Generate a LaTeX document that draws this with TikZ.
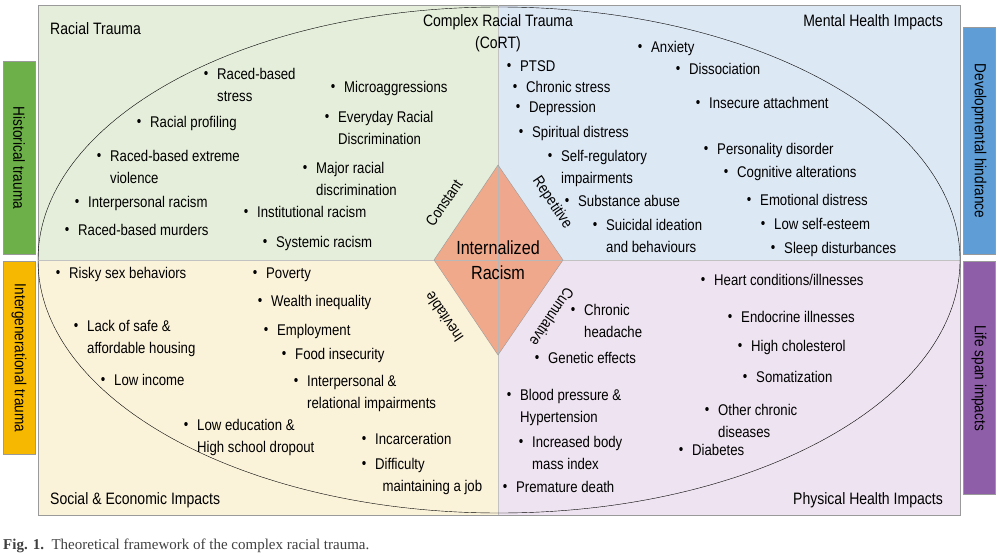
\documentclass[tikz,border=0pt]{standalone}
\usepackage{fontspec}
\setmainfont[FakeStretch=0.85]{Liberation Sans}
\newfontfamily\capfont{Liberation Serif}
\usetikzlibrary{positioning}
\definecolor{qgreen}{HTML}{E4EEDA}
\definecolor{qblue}{HTML}{DDE8F5}
\definecolor{qyellow}{HTML}{FBF2DA}
\definecolor{qpurple}{HTML}{EEE3F0}
\definecolor{bgreen}{HTML}{6DAF48}
\definecolor{byellow}{HTML}{F6B800}
\definecolor{bblue}{HTML}{5E9DD6}
\definecolor{bpurple}{HTML}{8E5EA8}
\definecolor{dia}{HTML}{F1A283}
\definecolor{edge}{HTML}{9A9A9A}
\tikzstyle{item} = [font=\fontsize{15.5}{21.5}\selectfont, inner sep=0pt, align=left, anchor=north west]
\tikzstyle{bullet} = [font=\fontsize{15}{15}\selectfont, inner sep=0pt]
\tikzstyle{title} = [font=\fontsize{16.5}{22}\selectfont, inner sep=0pt]
\tikzstyle{bar} = [draw=edge, minimum height=32pt, font=\fontsize{16}{16}\selectfont, inner sep=0pt]
\tikzstyle{edgelabel} = [font=\fontsize{15.5}{15.5}\selectfont, inner sep=0pt]
\newcommand*{\items}[1]{%
    \foreach \bx/\by/\txt in {#1} {
        \node [bullet] at (\bx,\by) {\textbullet};
        \node [item] at (\bx+11,\by-6.5) {\txt};
    }}
\begin{document}
\begin{tikzpicture}[x=1pt, y=-1pt]
    \useasboundingbox (0,0) rectangle (1000,559);
    \fill [white] (0,0) rectangle (1000,559);

    % Quadrants.
    \fill [qgreen] (38,5) rectangle (498,260);
    \fill [qblue] (498,5) rectangle (960,260);
    \fill [qyellow] (38,260) rectangle (498,515);
    \fill [qpurple] (498,260) rectangle (960,515);
    \draw [edge] (38,5) rectangle (960,515);
    \draw [edge!60] (498,5) -- (498,515);
    \draw [edge!60] (38,260) -- (960,260);
    \draw [black, thin] (499,260) ellipse [x radius=461, y radius=253];

    % Diamond.
    \node (top) [coordinate] at (498,165) {};
    \node (right) [coordinate] at (563,260) {};
    \node (bottom) [coordinate] at (498,355) {};
    \node (left) [coordinate] at (434,260) {};
    \fill [dia, opacity=0.9] (top) -- (right) -- (bottom) -- (left) -- cycle;
    \draw [edge!70] (top) -- (bottom) (left) -- (right);
    \draw [edge] (top) -- (right) -- (bottom) -- (left) -- cycle;
    \node (core) [title, align=center, font=\fontsize{19}{25}\selectfont] at (498,260) {Internalized\\Racism};
    \node (constant) [edgelabel, rotate=56] at (444,203) {Constant};
    \node (repetitive) [edgelabel, rotate=-56] at (552,203) {Repetitive};
    \node (inevitable) [edgelabel, rotate=124] at (444,317) {Inevitable};
    \node (cumulative) [edgelabel, rotate=-124] at (552,317) {Cumulative};

    % Side bars.
    \node (historical) [bar, fill=bgreen, minimum width=193pt, rotate=-90] at (19,158) {Historical trauma};
    \node (intergen) [bar, fill=byellow, minimum width=193pt, rotate=-90] at (19,358) {Intergenerational trauma};
    \node (develop) [bar, fill=bblue, minimum width=227pt, rotate=-90] at (979,141) {Developmental hindrance};
    \node (lifespan) [bar, fill=bpurple, minimum width=233pt, rotate=-90] at (979,378) {Life span impacts};

    % Titles.
    \node (racial) [title, anchor=west] at (50,29) {Racial Trauma};
    \node (cort) [title, align=center] at (498,33) {Complex Racial Trauma\\(CoRT)};
    \node (mental) [title, anchor=east] at (943,22) {Mental Health Impacts};
    \node (social) [title, anchor=west] at (50,500) {Social \& Economic Impacts};
    \node (physical) [title, anchor=east] at (943,500) {Physical Health Impacts};

    % Items.
    \items{206/75/{Raced-based\\stress}, 333/88/Microaggressions, 139/123/Racial profiling,
        327/118/{Everyday Racial\\Discrimination}, 99/157/{Raced-based extreme\\violence},
        305/169/{Major racial\\discrimination}, 77/203/Interpersonal racism,
        246/213/Institutional racism, 67/231/Raced-based murders, 265/243/Systemic racism}
    \items{640/48/Anxiety, 509/67/PTSD, 678/70/Dissociation, 515/88/Chronic stress,
        518/108/Depression, 698/104/Insecure attachment, 521/133/Spiritual distress,
        550/157/{Self-regulatory\\impairments}, 706/150/Personality disorder,
        726/173/Cognitive alterations, 567/202/Substance abuse, 749/201/Emotional distress,
        595/226/{Suicidal ideation\\and behaviours}, 763/225/Low self-esteem,
        773/249/Sleep disturbances}
    \items{58/274/Risky sex behaviors, 255/274/Poverty, 260/302/Wealth inequality,
        76/327/{Lack of safe \&\\affordable housing}, 266/331/Employment,
        284/355/Food insecurity, 103/381/Low income,
        296/382/{Interpersonal \&\\relational impairments},
        186/426/{Low education \&\\High school dropout}, 364/440/Incarceration,
        364/465/{Difficulty\\\ \ maintaining a job}}
    \items{703/281/{Heart conditions/illnesses}, 573/311/{Chronic\\headache},
        730/318/Endocrine illnesses, 740/347/High cholesterol, 537/359/Genetic effects,
        745/378/Somatization, 509/396/{Blood pressure \&\\Hypertension},
        707/411/{Other chronic\\diseases}, 521/443/{Increased body\\mass index},
        681/451/Diabetes, 505/488/Premature death}

    % Caption.
    \node (caption) [anchor=west, inner sep=0pt, text=black!75, font=\capfont\fontsize{15}{15}\selectfont] at (3,546)
        {\textbf{Fig. 1.}\ \ Theoretical framework of the complex racial trauma.};
\end{tikzpicture}
\end{document}
